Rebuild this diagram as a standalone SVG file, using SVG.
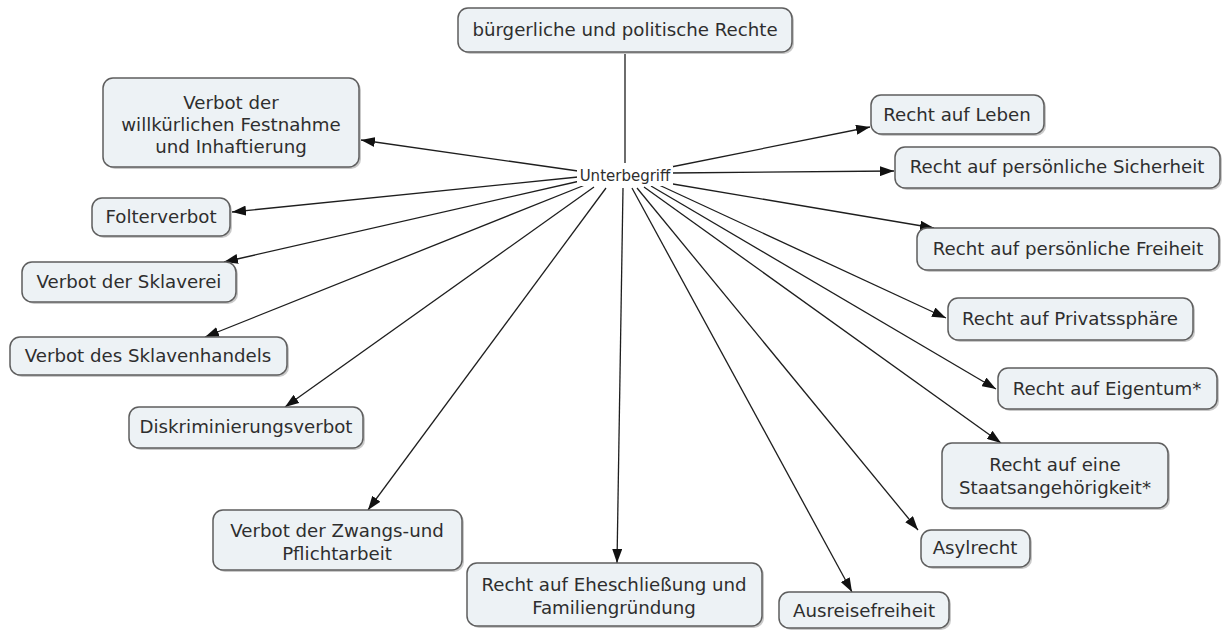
<svg xmlns="http://www.w3.org/2000/svg" width="1226" height="630" viewBox="0 0 1226 630">
  <style>
    .box { fill: #edf2f5; stroke: #5e5e5e; stroke-width: 1.5; }
    .shadow { fill: #c9c9c9; }
    .lbl { font-family: "DejaVu Sans", Verdana, sans-serif; font-size: 18.2px; fill: #2e2e2e; text-anchor: middle; }
    .link { font-family: "DejaVu Sans", Verdana, sans-serif; font-size: 15px; fill: #2e2e2e; text-anchor: middle; }
    .edge { stroke: #1e1e1e; stroke-width: 1.3; fill: none; }
    .arrow { stroke: #1e1e1e; stroke-width: 1.3; fill: none; marker-end: url(#head); }
  </style>
  <defs>
    <marker id="head" viewBox="0 0 14 10" refX="14" refY="5" markerWidth="14" markerHeight="10" markerUnits="userSpaceOnUse" orient="auto">
      <path d="M0,0 L14,5 L0,10 Z" fill="#111"/>
    </marker>
  </defs>
  <rect width="1226" height="630" fill="#ffffff"/>

  <!-- connectors -->
  <g id="connectors">
    <line class="edge" x1="625" y1="52" x2="625" y2="163"/>
    <line class="arrow" x1="578" y1="171" x2="361" y2="140"/>
    <line class="arrow" x1="578" y1="177" x2="232" y2="212"/>
    <line class="arrow" x1="580" y1="181" x2="224" y2="262"/>
    <line class="arrow" x1="585" y1="185" x2="205" y2="337"/>
    <line class="arrow" x1="594" y1="187" x2="285" y2="407"/>
    <line class="arrow" x1="606" y1="188" x2="368" y2="510"/>
    <line class="arrow" x1="623" y1="188" x2="617" y2="563"/>
    <line class="arrow" x1="632" y1="188" x2="852" y2="592"/>
    <line class="arrow" x1="637" y1="188" x2="918" y2="530"/>
    <line class="arrow" x1="644" y1="187" x2="1001" y2="443"/>
    <line class="arrow" x1="651" y1="186" x2="996" y2="389"/>
    <line class="arrow" x1="659" y1="185" x2="946" y2="318"/>
    <line class="arrow" x1="667" y1="183" x2="934" y2="228"/>
    <line class="arrow" x1="671" y1="173" x2="894" y2="171"/>
    <line class="arrow" x1="671" y1="167" x2="870" y2="127"/>
  </g>

  <!-- linking phrase -->
  <g id="link-unterbegriff">
    <rect x="577" y="166" width="96" height="20" fill="#ffffff"/>
    <text class="link" x="625" y="181">Unterbegriff</text>
  </g>

  <!-- concepts -->
  <g id="node-root">
    <rect class="shadow" x="460" y="10" width="334" height="44" rx="10"/>
    <rect class="box" x="458" y="8" width="334" height="44" rx="10"/>
    <text class="lbl" x="625" y="36">bürgerliche und politische Rechte</text>
  </g>

  <g id="node-festnahme">
    <rect class="shadow" x="105" y="80" width="256" height="89" rx="10"/>
    <rect class="box" x="103" y="78" width="256" height="89" rx="10"/>
    <text class="lbl" x="231" y="109">Verbot der</text>
    <text class="lbl" x="231" y="131">willkürlichen Festnahme</text>
    <text class="lbl" x="231" y="153">und Inhaftierung</text>
  </g>

  <g id="node-folter">
    <rect class="shadow" x="94" y="200" width="138" height="38" rx="10"/>
    <rect class="box" x="92" y="198" width="138" height="38" rx="10"/>
    <text class="lbl" x="161" y="223">Folterverbot</text>
  </g>

  <g id="node-sklaverei">
    <rect class="shadow" x="24" y="264" width="214" height="40" rx="10"/>
    <rect class="box" x="22" y="262" width="214" height="40" rx="10"/>
    <text class="lbl" x="129" y="288">Verbot der Sklaverei</text>
  </g>

  <g id="node-sklavenhandel">
    <rect class="shadow" x="12" y="339" width="277" height="38" rx="10"/>
    <rect class="box" x="10" y="337" width="277" height="38" rx="10"/>
    <text class="lbl" x="148" y="362">Verbot des Sklavenhandels</text>
  </g>

  <g id="node-diskriminierung">
    <rect class="shadow" x="131" y="409" width="234" height="41" rx="10"/>
    <rect class="box" x="129" y="407" width="234" height="41" rx="10"/>
    <text class="lbl" x="246" y="433">Diskriminierungsverbot</text>
  </g>

  <g id="node-zwangsarbeit">
    <rect class="shadow" x="215" y="512" width="249" height="60" rx="10"/>
    <rect class="box" x="213" y="510" width="249" height="60" rx="10"/>
    <text class="lbl" x="337" y="537">Verbot der Zwangs-und</text>
    <text class="lbl" x="337" y="560">Pflichtarbeit</text>
  </g>

  <g id="node-eheschliessung">
    <rect class="shadow" x="469" y="565" width="295" height="63" rx="10"/>
    <rect class="box" x="467" y="563" width="295" height="63" rx="10"/>
    <text class="lbl" x="614" y="591">Recht auf Eheschließung und</text>
    <text class="lbl" x="614" y="614">Familiengründung</text>
  </g>

  <g id="node-ausreise">
    <rect class="shadow" x="781" y="594" width="170" height="36" rx="10"/>
    <rect class="box" x="779" y="592" width="170" height="36" rx="10"/>
    <text class="lbl" x="864" y="617">Ausreisefreiheit</text>
  </g>

  <g id="node-asyl">
    <rect class="shadow" x="923" y="532" width="109" height="37" rx="10"/>
    <rect class="box" x="921" y="530" width="109" height="37" rx="10"/>
    <text class="lbl" x="975" y="554">Asylrecht</text>
  </g>

  <g id="node-staatsangehoerigkeit">
    <rect class="shadow" x="944" y="445" width="226" height="65" rx="10"/>
    <rect class="box" x="942" y="443" width="226" height="65" rx="10"/>
    <text class="lbl" x="1055" y="471">Recht auf eine</text>
    <text class="lbl" x="1055" y="494">Staatsangehörigkeit*</text>
  </g>

  <g id="node-eigentum">
    <rect class="shadow" x="1000" y="370" width="219" height="41" rx="10"/>
    <rect class="box" x="998" y="368" width="219" height="41" rx="10"/>
    <text class="lbl" x="1107" y="395">Recht auf Eigentum*</text>
  </g>

  <g id="node-privatssphaere">
    <rect class="shadow" x="950" y="300" width="245" height="42" rx="10"/>
    <rect class="box" x="948" y="298" width="245" height="42" rx="10"/>
    <text class="lbl" x="1070" y="325">Recht auf Privatssphäre</text>
  </g>

  <g id="node-freiheit">
    <rect class="shadow" x="919" y="230" width="302" height="42" rx="10"/>
    <rect class="box" x="917" y="228" width="302" height="42" rx="10"/>
    <text class="lbl" x="1068" y="255">Recht auf persönliche Freiheit</text>
  </g>

  <g id="node-sicherheit">
    <rect class="shadow" x="897" y="149" width="325" height="41" rx="10"/>
    <rect class="box" x="895" y="147" width="325" height="41" rx="10"/>
    <text class="lbl" x="1057" y="173">Recht auf persönliche Sicherheit</text>
  </g>

  <g id="node-leben">
    <rect class="shadow" x="873" y="97" width="173" height="39" rx="10"/>
    <rect class="box" x="871" y="95" width="173" height="39" rx="10"/>
    <text class="lbl" x="957" y="121">Recht auf Leben</text>
  </g>
</svg>
